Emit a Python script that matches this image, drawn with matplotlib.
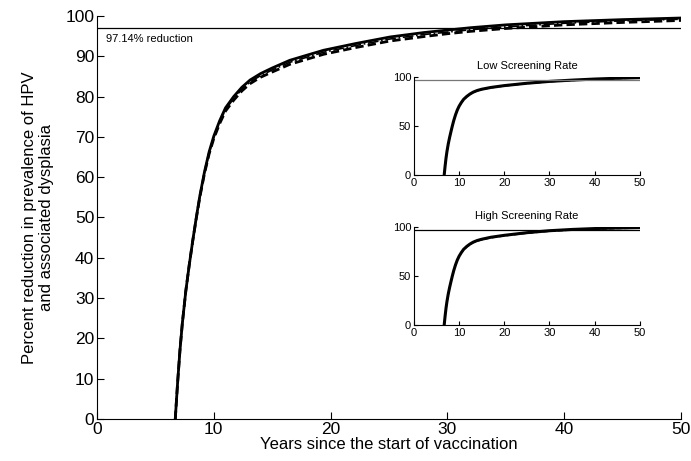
import matplotlib
matplotlib.use("Agg")
import matplotlib.pyplot as plt
import numpy as np

plt.rcParams['font.family'] = ['Liberation Sans', 'DejaVu Sans']

# Main chart data (years, percent reduction)
years = [6.7, 6.9, 7.1, 7.3, 7.6, 7.9, 8.2, 8.5, 8.8, 9.2, 9.6, 10.0, 10.5, 11.0, 11.7, 12.4, 13.1, 14.0, 15.0, 16.5, 18.0, 19.4, 22.2, 25.1, 28.0, 30.0, 32.0, 35.0, 40.0, 45.0, 50.0]
solid_vals = [0, 9, 17, 23.6, 31.7, 38.3, 44.3, 50, 55.3, 61.3, 66.3, 70.2, 74, 77.2, 80, 82.3, 84.1, 85.7, 87.1, 89, 90.3, 91.5, 93.2, 94.8, 95.9, 96.5, 97.1, 97.8, 98.6, 99.1, 99.5]
dashed_vals = [0, 9, 17, 23.6, 31.7, 38.3, 44.3, 49.8, 55.0, 60.9, 65.8, 69.6, 73.3, 76.4, 79.1, 81.4, 83.2, 84.8, 86.1, 88.0, 89.3, 90.5, 92.2, 93.8, 94.9, 95.6, 96.2, 96.9, 97.8, 98.4, 98.9]
dashdot_vals = [0, 9, 17, 23.6, 31.7, 38.3, 44.3, 49.9, 55.1, 61.1, 66.0, 69.9, 73.6, 76.8, 79.5, 81.8, 83.6, 85.2, 86.6, 88.5, 89.8, 91.0, 92.7, 94.3, 95.4, 96.0, 96.6, 97.3, 98.2, 98.8, 99.2]
threshold = 97.14
threshold_label = "97.14% reduction"

# Inset data
inset_years = [6.7, 6.9, 7.1, 7.3, 7.6, 7.9, 8.2, 8.5, 8.8, 9.2, 9.6, 10.0, 10.5, 11.0, 11.7, 12.4, 13.1, 14.0, 15.0, 17.0, 20.0, 25.0, 30.0, 35.0, 40.0, 45.0, 50.0]
low_vals = [0, 9, 17, 23.6, 31.7, 38.3, 44.3, 50, 55.3, 61.3, 66.3, 70.2, 74, 77.2, 80.2, 82.6, 84.5, 86.2, 87.5, 89.3, 91.2, 93.6, 95.5, 96.8, 97.9, 98.7, 99.3]
high_vals = [0, 9, 17, 23.6, 31.7, 38.3, 44.3, 50, 55.3, 61.3, 66.3, 70.2, 74, 77.2, 80.2, 82.6, 84.5, 86.2, 87.5, 89.5, 91.5, 94.2, 96.2, 97.5, 98.4, 99.0, 99.4]

fig = plt.figure(figsize=(6.91, 4.61), dpi=100)

def style_ax(ax, fs, ticklen):
    ax.spines['top'].set_visible(False)
    ax.spines['right'].set_visible(False)
    ax.tick_params(direction='in', length=ticklen, labelsize=fs, width=0.8, pad=2)

ax = fig.add_axes([0.1404, 0.0911, 0.8451, 0.8742])
ax.plot(years, solid_vals, color='black', lw=2.0, ls='-')
ax.plot(years, dashed_vals, color='black', lw=2.0, ls=(0, (3, 1.5)))
ax.plot(years, dashdot_vals, color='black', lw=1.2, ls='-.')
ax.axhline(threshold, color='black', lw=0.9)
ax.text(0.8, 95.5, threshold_label, fontsize=8, va='top', ha='left')
ax.set_xlim(0, 50)
ax.set_ylim(0, 100)
ax.set_xticks(np.arange(0, 51, 10))
ax.set_yticks(np.arange(0, 101, 10))
style_ax(ax, 12.5, 5)
ax.set_xlabel("Years since the start of vaccination", fontsize=12, labelpad=0)
ax.set_ylabel("Percent reduction in prevalence of HPV\nand associated dysplasia", fontsize=12, labelpad=8)

# Low screening inset
ax1 = fig.add_axes([0.599, 0.6204, 0.327, 0.2126])
ax1.plot(inset_years, low_vals, color='black', lw=2.2)
ax1.plot(inset_years, [v - 0.4 for v in low_vals], color='black', lw=1.0, ls='--')
ax1.axhline(threshold, color='#777777', lw=0.9)
ax1.set_xlim(0, 50)
ax1.set_ylim(0, 100)
ax1.set_xticks(np.arange(0, 51, 10))
ax1.set_yticks([0, 50, 100])
style_ax(ax1, 8, 3)
ax1.set_title("Low Screening Rate", fontsize=8, pad=6)

# High screening inset
ax2 = fig.add_axes([0.599, 0.295, 0.327, 0.2126])
ax2.plot(inset_years, high_vals, color='black', lw=2.2)
ax2.plot(inset_years, [v - 0.6 for v in high_vals], color='black', lw=1.0, ls='--')
ax2.axhline(threshold, color='black', lw=0.9)
ax2.set_xlim(0, 50)
ax2.set_ylim(0, 100)
ax2.set_xticks(np.arange(0, 51, 10))
ax2.set_yticks([0, 50, 100])
style_ax(ax2, 8, 3)
ax2.set_title("High Screening Rate", fontsize=8, pad=6)

fig.savefig("out.png", dpi=100)
